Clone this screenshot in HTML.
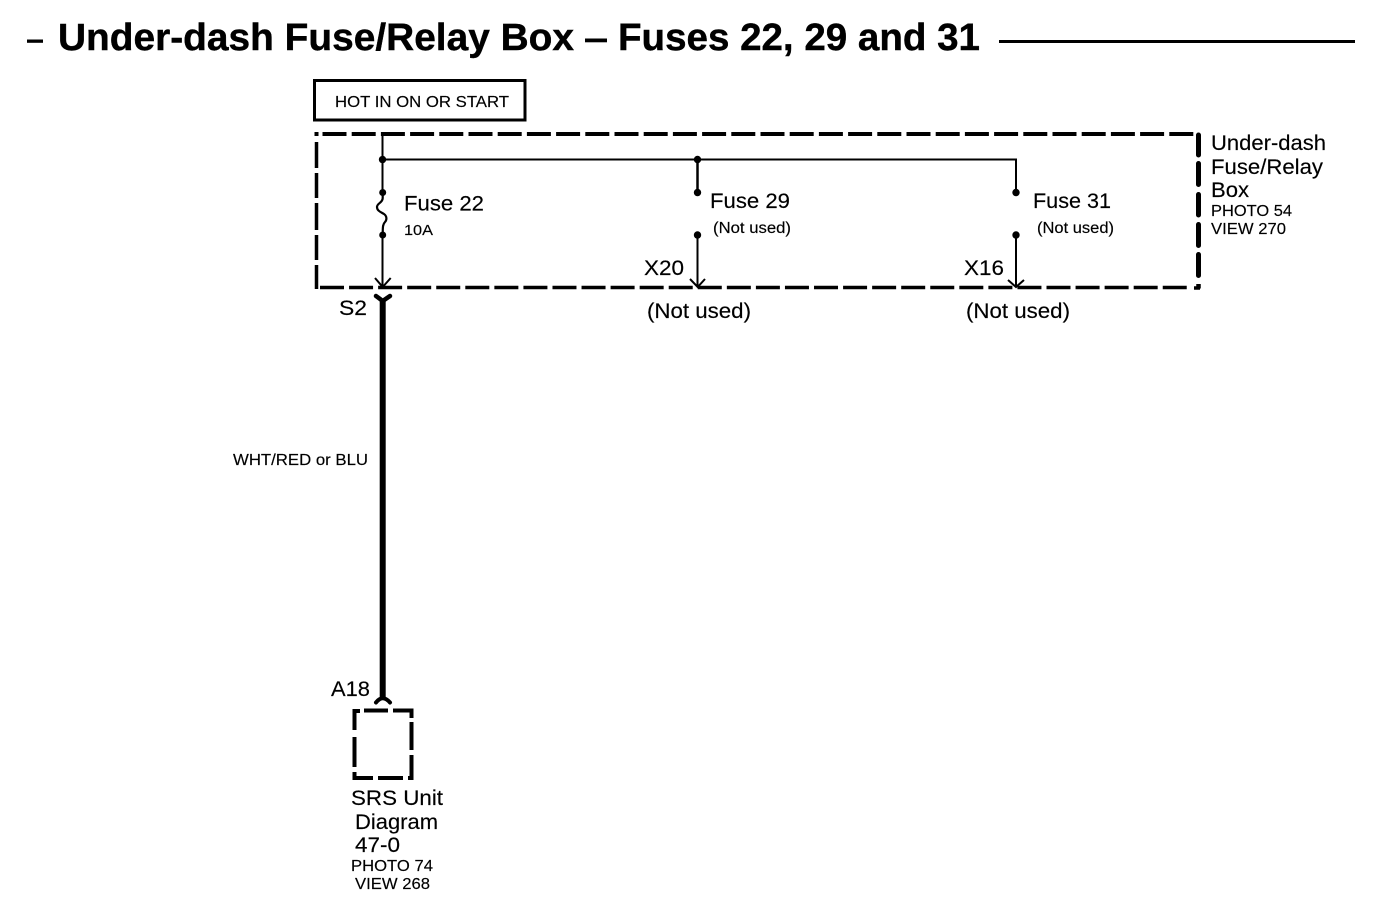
<!DOCTYPE html>
<html>
<head>
<meta charset="utf-8">
<style>
html,body{margin:0;padding:0;background:#fff;width:1376px;height:908px;overflow:hidden}
svg{display:block}
text{font-family:"Liberation Sans",sans-serif;fill:#000;stroke:#000;stroke-width:.15}
</style>
</head>
<body>
<svg width="1376" height="908" viewBox="0 0 1376 908" xmlns="http://www.w3.org/2000/svg">
<rect width="1376" height="908" fill="#fff"/>
<!-- Title -->
<rect x="27" y="39.5" width="16" height="3.3" fill="#000"/>
<text x="58" y="50" font-size="38" font-weight="bold" textLength="516" lengthAdjust="spacingAndGlyphs" style="stroke-width:.4">Under-dash Fuse/Relay Box</text>
<rect x="585" y="38.5" width="22" height="3.8" fill="#000"/>
<text x="618" y="50" font-size="38" font-weight="bold" textLength="362" lengthAdjust="spacingAndGlyphs" style="stroke-width:.4">Fuses 22, 29 and 31</text>
<rect x="999" y="40" width="356" height="3" fill="#000"/>

<!-- Hot box -->
<rect x="314.5" y="80.5" width="210.5" height="39.5" fill="none" stroke="#000" stroke-width="3"/>
<text x="335" y="107" font-size="15.5" textLength="174" lengthAdjust="spacingAndGlyphs">HOT IN ON OR START</text>

<!-- Dashed fuse box -->
<g fill="none" stroke="#000">
<path d="M314.5 134H318.5" stroke-width="4"/>
<path d="M322.5 134H1195" stroke-width="4" stroke-dasharray="24 5.2"/>
<path d="M316.5 142V168M316.5 173V198M316.5 203V230M316.5 235V260M316.5 265V289" stroke-width="3.5"/>
<path d="M320 287.5H1190" stroke-width="3.5" stroke-dasharray="24 5.06"/>
<path d="M1194 288H1200" stroke-width="3.5"/>
<path d="M1198.5 135V155M1198.5 163.5V184.5M1198.5 194.5V215M1198.5 224.5V245.5M1198.5 254.5V275.5" stroke-width="5" stroke-linecap="round"/>
<path d="M1198.5 284V288.5" stroke-width="4.5"/>

<!-- Wires -->
<path d="M382.5 134V192" stroke-width="2"/>
<path d="M382.5 235V286" stroke-width="2"/>
<path d="M382 159.5H1016V192" stroke-width="2"/>
<path d="M697.5 159V192" stroke-width="2.5"/>
<path d="M697.5 235V287" stroke-width="2"/>
<path d="M1016 235V287" stroke-width="2"/>
<path d="M382.7 193V198C382.7 203 377 203 377 207C377 211 381 212 384 214C387 216 387 220 385 222C383 224 382.7 226 382.7 235" stroke-width="2.2"/>
<!-- Arrowheads -->
<path d="M375 278L382.7 287L390.7 278" stroke-width="2"/>
<path d="M690 279L697.7 287L705 279" stroke-width="2"/>
<path d="M1008 280L1016 287L1024 280" stroke-width="2"/>

<!-- Thick wire -->
<path d="M382.7 300V699" stroke-width="6"/>
<path d="M376 296L382.7 301L390 296" stroke-width="4.5" stroke-linecap="round"/>
<path d="M376 702.5Q382.5 694 390 702.5" stroke-width="4" stroke-linecap="round"/>

<!-- SRS box -->
<g stroke-width="4">
<path d="M354.5 730V711H360"/>
<path d="M364 710.5H388"/>
<path d="M393 710.5H411.5V718"/>
<path d="M354.5 737V767"/>
<path d="M411.5 722V750"/>
<path d="M354.5 772V778H373"/>
<path d="M378 778H403"/>
<path d="M411.5 755V778H408"/>
</g>
</g>

<!-- Dots -->
<g fill="#000">
<circle cx="382.5" cy="159.5" r="3.7"/>
<circle cx="382.7" cy="192.5" r="3.5"/>
<circle cx="382.7" cy="235" r="3.5"/>
<circle cx="697.5" cy="159.5" r="3.7"/>
<circle cx="697.5" cy="192.5" r="3.7"/>
<circle cx="697.5" cy="235" r="3.7"/>
<circle cx="1016" cy="192.5" r="3.7"/>
<circle cx="1016" cy="235" r="3.7"/>
</g>

<!-- Labels -->
<text x="404" y="210.5" font-size="21" textLength="80" lengthAdjust="spacingAndGlyphs">Fuse 22</text>
<text x="404" y="235" font-size="15" textLength="29" lengthAdjust="spacingAndGlyphs">10A</text>
<text x="710" y="208" font-size="21" textLength="80" lengthAdjust="spacingAndGlyphs">Fuse 29</text>
<text x="713" y="233" font-size="15.5" textLength="78" lengthAdjust="spacingAndGlyphs">(Not used)</text>
<text x="1033" y="208" font-size="21" textLength="78" lengthAdjust="spacingAndGlyphs">Fuse 31</text>
<text x="1037" y="233" font-size="15.5" textLength="77" lengthAdjust="spacingAndGlyphs">(Not used)</text>
<text x="644" y="275" font-size="21" textLength="40" lengthAdjust="spacingAndGlyphs">X20</text>
<text x="964" y="275" font-size="21" textLength="40" lengthAdjust="spacingAndGlyphs">X16</text>
<text x="647" y="318" font-size="21" textLength="104" lengthAdjust="spacingAndGlyphs">(Not used)</text>
<text x="966" y="318" font-size="21" textLength="104" lengthAdjust="spacingAndGlyphs">(Not used)</text>
<text x="339" y="315" font-size="21" textLength="28" lengthAdjust="spacingAndGlyphs">S2</text>
<text x="233" y="465" font-size="15.5" textLength="135" lengthAdjust="spacingAndGlyphs">WHT/RED or BLU</text>
<text x="331" y="696" font-size="21" textLength="39" lengthAdjust="spacingAndGlyphs">A18</text>

<text x="1211" y="150" font-size="21" textLength="115" lengthAdjust="spacingAndGlyphs">Under-dash</text>
<text x="1211" y="174" font-size="21" textLength="112" lengthAdjust="spacingAndGlyphs">Fuse/Relay</text>
<text x="1211" y="197" font-size="21" textLength="38" lengthAdjust="spacingAndGlyphs">Box</text>
<text x="1211" y="216" font-size="15.5" textLength="81" lengthAdjust="spacingAndGlyphs">PHOTO 54</text>
<text x="1211" y="234" font-size="15.5" textLength="75" lengthAdjust="spacingAndGlyphs">VIEW 270</text>

<text x="351" y="805" font-size="21" textLength="92" lengthAdjust="spacingAndGlyphs">SRS Unit</text>
<text x="355" y="829" font-size="21" textLength="83" lengthAdjust="spacingAndGlyphs">Diagram</text>
<text x="355" y="852" font-size="21" textLength="45" lengthAdjust="spacingAndGlyphs">47-0</text>
<text x="351" y="871" font-size="15.5" textLength="82" lengthAdjust="spacingAndGlyphs">PHOTO 74</text>
<text x="355" y="889" font-size="15.5" textLength="75" lengthAdjust="spacingAndGlyphs">VIEW 268</text>
</svg>
</body>
</html>
